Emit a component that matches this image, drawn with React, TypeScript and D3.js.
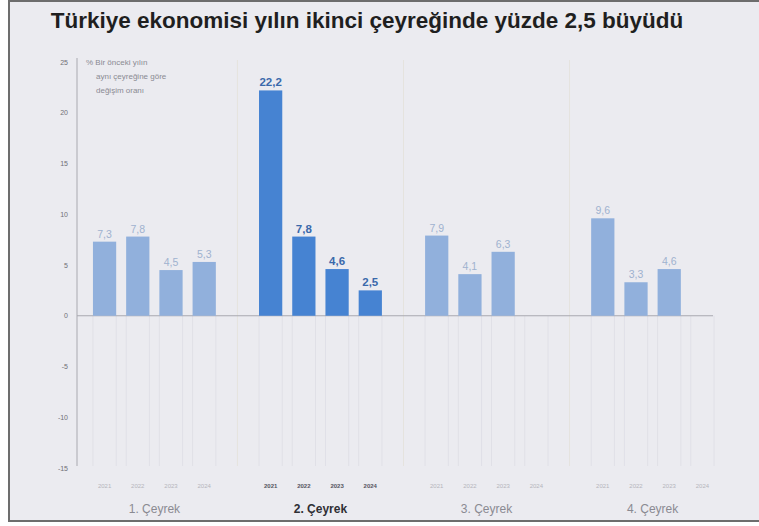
import React, {useEffect, useRef} from "react";
import * as d3 from "d3";

const quarters = ["1. Çeyrek", "2. Çeyrek", "3. Çeyrek", "4. Çeyrek"];
const years = ["2021", "2022", "2023", "2024"];
// growth, % change vs same quarter of previous year (null = not yet released)
const q1Values = [7.3, 7.8, 4.5, 5.3];
const q2Values = [22.2, 7.8, 4.6, 2.5];
const q3Values = [7.9, 4.1, 6.3, null];
const q4Values = [9.6, 3.3, 4.6, null];
const yTicks = [25, 20, 15, 10, 5, 0, -5, -10, -15];
const highlightQuarter = "2. Çeyrek";
const title = "Türkiye ekonomisi yılın ikinci çeyreğinde yüzde 2,5 büyüdü";
const noteLines = ["% Bir önceki yılın", "aynı çeyreğine göre", "değişim oranı"];

const App: React.FC = () => {
    const ref = useRef<SVGSVGElement | null>(null);

    useEffect(() => {
        if (!ref.current) return;
        const svg = d3.select(ref.current);
        svg.selectAll("*").remove();

        const width = 759;
        const height = 526;
        const font = "'Liberation Sans', Arial, sans-serif";

        const rows = [q1Values, q2Values, q3Values, q4Values];

        svg.append("rect").attr("width", width).attr("height", height).attr("fill", "#ffffff");
        svg.append("rect")
            .attr("x", 9).attr("y", 1)
            .attr("width", width).attr("height", 520)
            .attr("fill", "#ebebf0")
            .attr("stroke", "#6d6d6d")
            .attr("stroke-width", 2);

        svg.append("text")
            .attr("x", 367).attr("y", 28)
            .attr("text-anchor", "middle")
            .attr("font-family", font)
            .attr("font-weight", "bold")
            .attr("font-size", 22.5)
            .attr("fill", "#1f1f1f")
            .text(title);

        const axisX = 77;
        const y = d3.scaleLinear().domain([-15, 25]).range([468, 62]);
        const x0 = d3.scaleBand().domain(quarters).range([axisX, 730]).paddingInner(0.2).paddingOuter(0.066);
        const x1 = d3.scaleBand().domain(years).range([0, x0.bandwidth()]).paddingInner(0.3).paddingOuter(0.15);

        const g = svg.append("g");

        // faint vertical guides
        quarters.forEach((q, qi) => {
            const gx = x0(q)!;
            years.forEach((yr) => {
                const bx = gx + x1(yr)!;
                [bx, bx + x1.bandwidth()].forEach((lx) => {
                    g.append("line")
                        .attr("x1", lx).attr("x2", lx)
                        .attr("y1", y(0)).attr("y2", 466)
                        .attr("stroke", "#e0e0e7")
                        .attr("stroke-width", 1);
                });
            });
            if (qi > 0) {
                const sx = gx - (x0.step() - x0.bandwidth()) / 2;
                g.append("line")
                    .attr("x1", sx).attr("x2", sx)
                    .attr("y1", 60).attr("y2", 466)
                    .attr("stroke", "#e5e3de")
                    .attr("stroke-width", 1);
            }
        });

        // y axis
        g.append("line")
            .attr("x1", axisX).attr("x2", axisX)
            .attr("y1", 58).attr("y2", 466)
            .attr("stroke", "#a9a9b0")
            .attr("stroke-width", 1);
        g.selectAll(".ytick")
            .data(yTicks)
            .join("text")
            .attr("class", "ytick")
            .attr("x", 68)
            .attr("y", (d) => y(d) + 2.5)
            .attr("text-anchor", "end")
            .attr("font-family", font)
            .attr("font-size", 7)
            .attr("fill", "#6f6f76")
            .text((d) => String(d));

        // zero line
        g.append("line")
            .attr("x1", axisX).attr("x2", x0(quarters[3])! + x0.bandwidth() - 6)
            .attr("y1", y(0)).attr("y2", y(0))
            .attr("stroke", "#a9a9b0")
            .attr("stroke-width", 1);

        // note
        noteLines.forEach((line, i) => {
            g.append("text")
                .attr("x", i === 0 ? 86 : 96)
                .attr("y", 65 + i * 14)
                .attr("font-family", font)
                .attr("font-size", 8)
                .attr("fill", "#8a8a92")
                .text(line);
        });

        // bars
        quarters.forEach((q, qi) => {
            const hl = q === highlightQuarter;
            const gx = x0(q)!;
            rows[qi].forEach((v, yi) => {
                if (v === null) return;
                const bx = gx + x1(years[yi])!;
                g.append("rect")
                    .attr("x", bx)
                    .attr("y", y(v))
                    .attr("width", x1.bandwidth())
                    .attr("height", y(0) - y(v))
                    .attr("fill", hl ? "#4683d2" : "#91b0dc");
                g.append("text")
                    .attr("x", bx + x1.bandwidth() / 2)
                    .attr("y", y(v) - 4)
                    .attr("text-anchor", "middle")
                    .attr("font-family", font)
                    .attr("font-size", hl ? 11.5 : 10.5)
                    .attr("font-weight", hl ? "bold" : "normal")
                    .attr("fill", hl ? "#3a69ab" : "#9fb2cf")
                    .text(String(v).replace(".", ","));
            });
            years.forEach((yr) => {
                g.append("text")
                    .attr("x", gx + x1(yr)! + x1.bandwidth() / 2)
                    .attr("y", 488)
                    .attr("text-anchor", "middle")
                    .attr("font-family", font)
                    .attr("font-size", 6)
                    .attr("font-weight", hl ? "bold" : "normal")
                    .attr("fill", hl ? "#555560" : "#b5b5bc")
                    .text(yr);
            });
            g.append("text")
                .attr("x", gx + x0.bandwidth() / 2)
                .attr("y", 513)
                .attr("text-anchor", "middle")
                .attr("font-family", font)
                .attr("font-size", 12)
                .attr("font-weight", hl ? "bold" : "normal")
                .attr("fill", hl ? "#2f2f35" : "#8a8a92")
                .text(q);
        });
    }, []);

    return (
        <svg
            ref={ref}
            width={759}
            height={526}
            style={{position: "absolute", left: 0, top: 0, display: "block"}}
        ></svg>
    );
};

export default App;
